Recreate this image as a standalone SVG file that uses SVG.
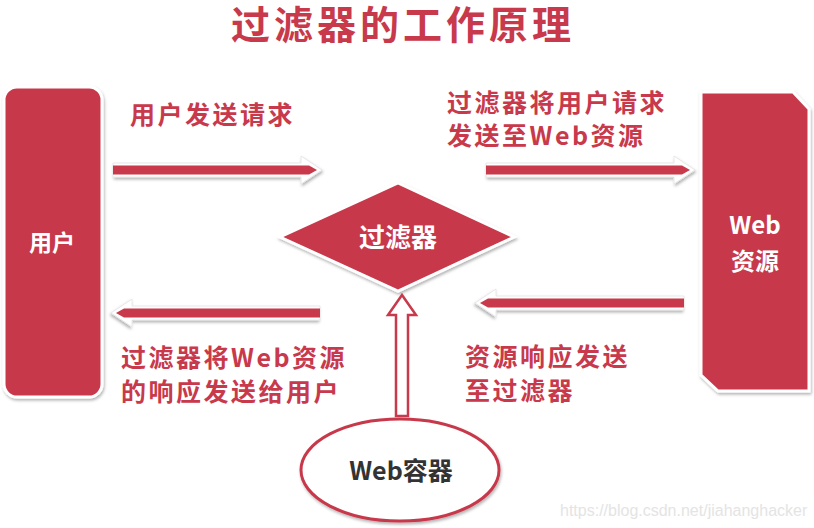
<svg xmlns="http://www.w3.org/2000/svg" width="814" height="528" viewBox="0 0 814 528">
<defs>
<filter id="sh" x="-20%" y="-20%" width="140%" height="140%">
<feDropShadow dx="1" dy="2" stdDeviation="1.5" flood-color="#000" flood-opacity="0.3"/>
</filter>
<g id="arr">
<polygon points="0,-7 188,-7 188,-14 209,0 188,14 188,7 0,7" fill="#fff" stroke="#e2e2e2" stroke-width="0.8" filter="url(#sh)"/>
<polygon points="0,-4.5 196,-4.5 204,0 196,4.5 0,4.5" fill="#c8394b"/>
</g>
</defs>
<style>
.t{font-family:"Noto Sans CJK SC","Liberation Sans",sans-serif;font-weight:700}
.red{fill:#c8394b}
.wt{fill:#fff}
.shape{fill:#c8394b;stroke:#fff;stroke-width:3}
.lb{font-size:25px;letter-spacing:2.5px}
</style>
<rect width="814" height="528" fill="#fff"/>
<text class="t red" x="403" y="39" font-size="39" text-anchor="middle" letter-spacing="4">过滤器的工作原理</text>

<g id="user">
<rect class="shape" x="4" y="87" width="98" height="310" rx="13" filter="url(#sh)"/>
<text class="t wt" x="52" y="251" font-size="23" text-anchor="middle">用户</text>
</g>

<g id="web">
<polygon class="shape" points="701,92 793,92 809,109 809,391 718,391 701,375" filter="url(#sh)"/>
<text class="t wt" x="755" y="234" font-size="24" text-anchor="middle">Web</text>
<text class="t wt" x="755" y="270" font-size="24" text-anchor="middle">资源</text>
</g>

<g id="filter">
<polygon class="shape" points="398,183 514,237 398,291 280,237" filter="url(#sh)"/>
<text class="t wt" x="398" y="247" font-size="26" text-anchor="middle">过滤器</text>
</g>

<g id="container">
<ellipse cx="400" cy="470" rx="99" ry="51" fill="#fff" stroke="#c8394b" stroke-width="3" filter="url(#sh)"/>
<text class="t" x="401" y="480" font-size="25" text-anchor="middle" fill="#333">Web容器</text>
</g>

<g id="connectors">
<use href="#arr" transform="translate(113,170)"/>
<use href="#arr" transform="translate(486,170)"/>
<use href="#arr" transform="translate(684,303) scale(-1,1)"/>
<use href="#arr" transform="translate(320,313) scale(-1,1)"/>
<polygon points="396,416 396,315 388,315 402,295 416,315 408,315 408,416" fill="#fff" stroke="#c8394b" stroke-width="2.5" stroke-linejoin="miter"/>
</g>

<g id="labels">
<text class="t red lb" x="130" y="124">用户发送请求</text>
<text class="t red lb" x="447" y="112">过滤器将用户请求</text>
<text class="t red lb" x="447" y="145">发送至Web资源</text>
<text class="t red lb" x="465" y="366">资源响应发送</text>
<text class="t red lb" x="465" y="400">至过滤器</text>
<text class="t red lb" x="121" y="367">过滤器将Web资源</text>
<text class="t red lb" x="121" y="401">的响应发送给用户</text>
</g>
<text x="560" y="516" font-family="Liberation Sans, sans-serif" font-size="16" fill="#e4e4e4">https://blog.csdn.net/jiahanghacker</text>
</svg>
